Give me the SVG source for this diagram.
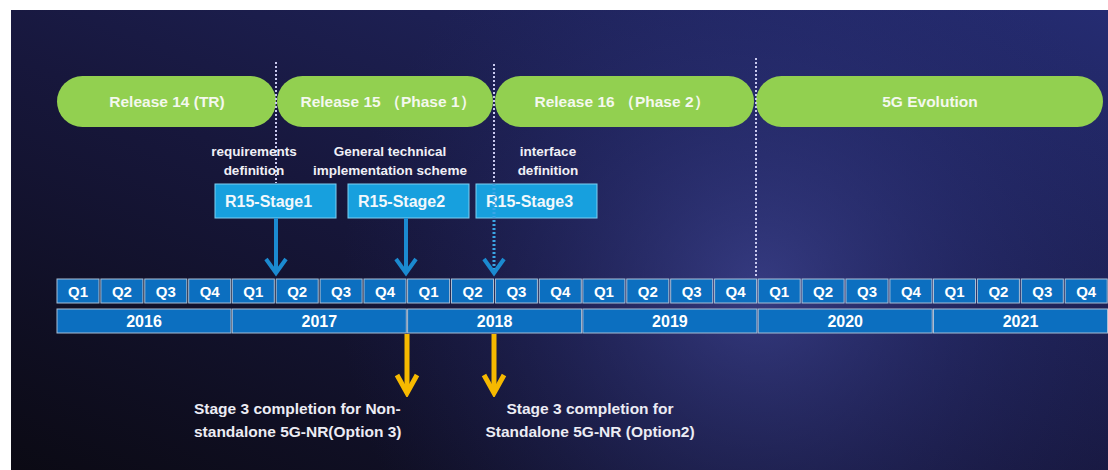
<svg xmlns="http://www.w3.org/2000/svg" width="1108" height="470" viewBox="0 0 1108 470">
  <defs>
    <linearGradient id="bg" x1="0" y1="1" x2="1" y2="0">
      <stop offset="0" stop-color="#0b0a14"/>
      <stop offset="0.45" stop-color="#17173c"/>
      <stop offset="1" stop-color="#252c72"/>
    </linearGradient>
    <radialGradient id="glow" cx="760" cy="290" r="420" gradientUnits="userSpaceOnUse">
      <stop offset="0" stop-color="#4850a8" stop-opacity="0.6"/>
      <stop offset="0.5" stop-color="#333b8c" stop-opacity="0.3"/>
      <stop offset="1" stop-color="#232a6e" stop-opacity="0"/>
    </radialGradient>
    <marker id="chev-blue" markerUnits="userSpaceOnUse" markerWidth="26" markerHeight="22" viewBox="0 0 26 22" refX="13" refY="18" orient="0">
      <path d="M3,4 L13,18 L23,4" fill="none" stroke="#1b8ad0" stroke-width="4"/>
    </marker>
    <marker id="chev-gold" markerUnits="userSpaceOnUse" markerWidth="26" markerHeight="26" viewBox="0 0 26 26" refX="13" refY="22" orient="0">
      <path d="M3,4 L13,22 L23,4" fill="none" stroke="#f6b900" stroke-width="5"/>
    </marker>
    <style>
      text { font-family: "Liberation Sans", Arial, sans-serif; font-weight: bold; fill: #ffffff; }
      .pill { fill: #92d050; }
      .pill-t { font-size: 15.5px; text-anchor: middle; fill: #f4f8ee; }
      .note { font-size: 13.5px; text-anchor: middle; fill: #f0f0f6; }
      .stage { fill: #17a0de; stroke: #7fcff2; stroke-width: 1; }
      .stage-t { font-size: 16px; fill: #f2f8fc; }
      .q { fill: #0c6fc0; stroke: #a9bfd6; stroke-width: 1; }
      .q-t { font-size: 15px; text-anchor: middle; }
      .y-t { font-size: 16px; text-anchor: middle; }
      .dots { stroke: #c9c9ee; stroke-width: 2; stroke-dasharray: 2 2; fill: none; }
      .arr-blue { stroke: #1b8ad0; stroke-width: 4; fill: none; }
      .arr-gold { stroke: #f6b900; stroke-width: 5; fill: none; }
      .foot { font-size: 15.5px; fill: #ececf4; }
    </style>
  </defs>

  <!-- backdrop -->
  <rect x="0" y="0" width="1108" height="470" fill="#ffffff"/>
  <rect x="11" y="10" width="1097" height="460" fill="url(#bg)"/>
  <rect x="11" y="10" width="1097" height="460" fill="url(#glow)"/>

  <!-- release phases -->
  <g id="release14">
    <rect class="pill" x="57" y="76" width="219" height="51" rx="25.5"/>
    <text class="pill-t" x="167" y="107">Release 14 (TR)</text>
  </g>
  <g id="release15">
    <rect class="pill" x="277" y="76" width="216" height="51" rx="25.5"/>
    <text class="pill-t" x="388" y="107">Release 15 （Phase 1）</text>
  </g>
  <g id="release16">
    <rect class="pill" x="495" y="76" width="259" height="51" rx="25.5"/>
    <text class="pill-t" x="622" y="107">Release 16 （Phase 2）</text>
  </g>
  <g id="evolution">
    <rect class="pill" x="756" y="76" width="347" height="51" rx="25.5"/>
    <text class="pill-t" x="930" y="107">5G Evolution</text>
  </g>

  <!-- phase boundaries -->
  <g id="boundaries">
    <line class="dots" x1="276" y1="62" x2="276" y2="183"/>
    <line class="dots" x1="494" y1="64" x2="494" y2="184"/>
    <line class="dots" x1="756" y1="58" x2="756" y2="276"/>
  </g>

  <!-- stage descriptions -->
  <g id="note1">
    <text class="note" x="254" y="156">requirements</text>
    <text class="note" x="254" y="175">definition</text>
  </g>
  <g id="note2">
    <text class="note" x="390" y="156">General technical</text>
    <text class="note" x="390" y="175">implementation scheme</text>
  </g>
  <g id="note3">
    <text class="note" x="548" y="156">interface</text>
    <text class="note" x="548" y="175">definition</text>
  </g>

  <!-- stage boxes -->
  <g id="stage1">
    <rect class="stage" x="215" y="184" width="121" height="34"/>
    <text class="stage-t" x="225" y="207">R15-Stage1</text>
  </g>
  <g id="stage2">
    <rect class="stage" x="348" y="184" width="121" height="34"/>
    <text class="stage-t" x="358" y="207">R15-Stage2</text>
  </g>
  <g id="stage3">
    <rect class="stage" x="476" y="184" width="121" height="34"/>
    <text class="stage-t" x="486" y="207">R15-Stage3</text>
  </g>

  <!-- connectors -->
  <g id="connectors">
    <line class="arr-blue" x1="276" y1="218" x2="276" y2="273" marker-end="url(#chev-blue)"/>
    <line class="arr-blue" x1="406" y1="218" x2="406" y2="273" marker-end="url(#chev-blue)"/>
    <line x1="494" y1="184" x2="494" y2="273" stroke="#3aa6e6" stroke-width="3" stroke-dasharray="2 2" marker-end="url(#chev-blue)"/>
    <line class="arr-gold" x1="407" y1="334" x2="407" y2="393" marker-end="url(#chev-gold)"/>
    <line class="arr-gold" x1="494" y1="334" x2="494" y2="393" marker-end="url(#chev-gold)"/>
  </g>

  <!-- quarters -->
  <g id="quarters">
    <rect class="q" x="57" y="279" width="42" height="24"/><text class="q-t" x="78" y="297">Q1</text>
    <rect class="q" x="100.9" y="279" width="42" height="24"/><text class="q-t" x="121.9" y="297">Q2</text>
    <rect class="q" x="144.8" y="279" width="42" height="24"/><text class="q-t" x="165.8" y="297">Q3</text>
    <rect class="q" x="188.7" y="279" width="42" height="24"/><text class="q-t" x="209.7" y="297">Q4</text>
    <rect class="q" x="232.3" y="279" width="42" height="24"/><text class="q-t" x="253.3" y="297">Q1</text>
    <rect class="q" x="276.2" y="279" width="42" height="24"/><text class="q-t" x="297.2" y="297">Q2</text>
    <rect class="q" x="320.1" y="279" width="42" height="24"/><text class="q-t" x="341.1" y="297">Q3</text>
    <rect class="q" x="364" y="279" width="42" height="24"/><text class="q-t" x="385" y="297">Q4</text>
    <rect class="q" x="407.6" y="279" width="42" height="24"/><text class="q-t" x="428.6" y="297">Q1</text>
    <rect class="q" x="451.5" y="279" width="42" height="24"/><text class="q-t" x="472.5" y="297">Q2</text>
    <rect class="q" x="495.4" y="279" width="42" height="24"/><text class="q-t" x="516.4" y="297">Q3</text>
    <rect class="q" x="539.3" y="279" width="42" height="24"/><text class="q-t" x="560.3" y="297">Q4</text>
    <rect class="q" x="582.9" y="279" width="42" height="24"/><text class="q-t" x="603.9" y="297">Q1</text>
    <rect class="q" x="626.8" y="279" width="42" height="24"/><text class="q-t" x="647.8" y="297">Q2</text>
    <rect class="q" x="670.7" y="279" width="42" height="24"/><text class="q-t" x="691.7" y="297">Q3</text>
    <rect class="q" x="714.6" y="279" width="42" height="24"/><text class="q-t" x="735.6" y="297">Q4</text>
    <rect class="q" x="758.2" y="279" width="42" height="24"/><text class="q-t" x="779.2" y="297">Q1</text>
    <rect class="q" x="802.1" y="279" width="42" height="24"/><text class="q-t" x="823.1" y="297">Q2</text>
    <rect class="q" x="846" y="279" width="42" height="24"/><text class="q-t" x="867" y="297">Q3</text>
    <rect class="q" x="889.9" y="279" width="42" height="24"/><text class="q-t" x="910.9" y="297">Q4</text>
    <rect class="q" x="933.5" y="279" width="42" height="24"/><text class="q-t" x="954.5" y="297">Q1</text>
    <rect class="q" x="977.4" y="279" width="42" height="24"/><text class="q-t" x="998.4" y="297">Q2</text>
    <rect class="q" x="1021.3" y="279" width="42" height="24"/><text class="q-t" x="1042.3" y="297">Q3</text>
    <rect class="q" x="1065.2" y="279" width="42" height="24"/><text class="q-t" x="1086.2" y="297">Q4</text>
  </g>

  <!-- years -->
  <g id="years">
    <rect class="q" x="57" y="309" width="174" height="24"/><text class="y-t" x="144" y="327">2016</text>
    <rect class="q" x="232.3" y="309" width="174" height="24"/><text class="y-t" x="319.3" y="327">2017</text>
    <rect class="q" x="407.6" y="309" width="174" height="24"/><text class="y-t" x="494.6" y="327">2018</text>
    <rect class="q" x="582.9" y="309" width="174" height="24"/><text class="y-t" x="669.9" y="327">2019</text>
    <rect class="q" x="758.2" y="309" width="174" height="24"/><text class="y-t" x="845.2" y="327">2020</text>
    <rect class="q" x="933.5" y="309" width="174" height="24"/><text class="y-t" x="1020.5" y="327">2021</text>
  </g>

  <!-- milestones -->
  <g id="milestone-nsa">
    <text class="foot" x="194" y="414">Stage 3 completion for Non-</text>
    <text class="foot" x="194" y="437">standalone 5G-NR(Option 3)</text>
  </g>
  <g id="milestone-sa">
    <text class="foot" x="590" y="414" text-anchor="middle">Stage 3 completion for</text>
    <text class="foot" x="590" y="437" text-anchor="middle">Standalone 5G-NR (Option2)</text>
  </g>
</svg>
